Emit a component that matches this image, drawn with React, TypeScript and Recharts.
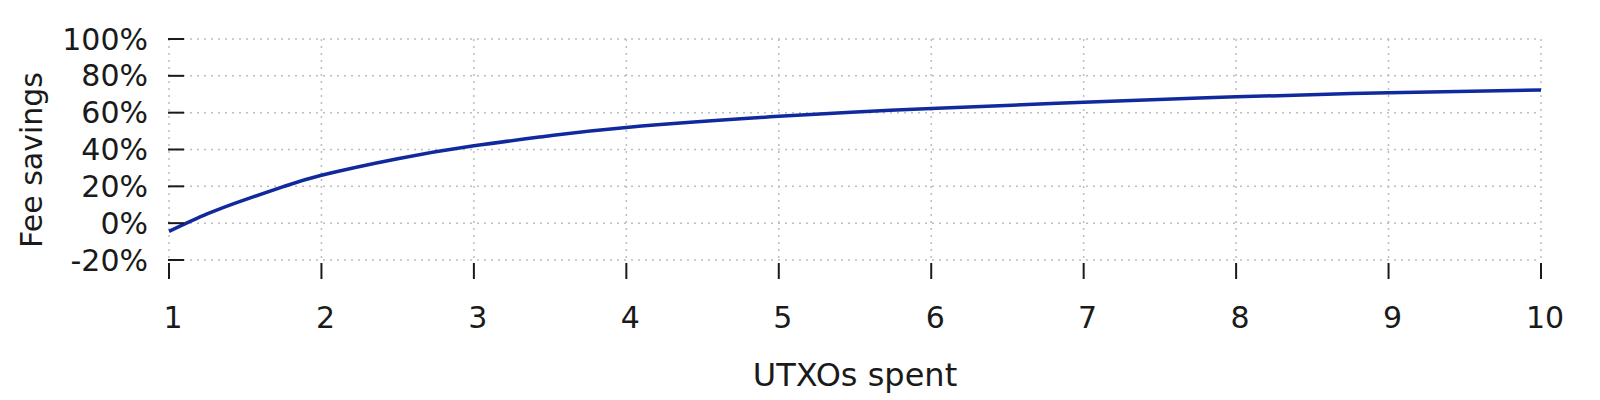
import { CartesianGrid, Label, Line, LineChart, XAxis, YAxis } from "recharts";

// UTXOs spent (x) and fee savings in percent (y)
const utxos = [1, 1.25, 1.5, 1.75, 2, 2.5, 3, 3.5, 4, 5, 6, 7, 8, 9, 10];
const savings = [-4.5, 5, 12.8, 19.8, 26, 35, 42, 47.5, 52, 58, 62.3, 65.6, 68.6, 70.8, 72.3];

const xTicks = [1, 2, 3, 4, 5, 6, 7, 8, 9, 10];
const yTicks = [-20, 0, 20, 40, 60, 80, 100];

const data = utxos.map((n, i) => ({ n, savings: savings[i] }));

const FONT = "DejaVu Sans";
const INK = "#1a1a1a";

const YTick = ({ x, y, payload }: any) => (
  <g>
    <line x1={x - 1} x2={x + 15} y1={y} y2={y} stroke={INK} strokeWidth={2} />
    <text
      x={x - 21}
      y={y}
      textAnchor="end"
      dominantBaseline="central"
      fontFamily={FONT}
      fontSize={30}
      fill={INK}
    >
      {payload.value + "%"}
    </text>
  </g>
);

const XTick = ({ x, y, payload }: any) => (
  <g>
    <line x1={x} x2={x} y1={y + 3} y2={y + 19} stroke={INK} strokeWidth={2} />
    <text
      x={x + 4}
      y={y + 57}
      textAnchor="middle"
      dominantBaseline="central"
      fontFamily={FONT}
      fontSize={30}
      fill={INK}
    >
      {payload.value}
    </text>
  </g>
);

const App = () => {
  return (
    <div style={{ position: "absolute", left: 0, top: 0, background: "#fff" }}>
      <LineChart
        width={1600}
        height={400}
        data={data}
        margin={{ top: 39, right: 59, left: 69, bottom: 80 }}
      >
        <CartesianGrid stroke="#bdbdbd" strokeWidth={1.5} strokeDasharray="2 5" />
        <XAxis
          dataKey="n"
          type="number"
          domain={[1, 10]}
          ticks={xTicks}
          axisLine={false}
          tickLine={false}
          tickSize={0}
          tickMargin={0}
          height={60}
          tick={XTick}
          interval={0}
        >
          <Label
            content={() => (
              <text
                x={855}
                y={375}
                textAnchor="middle"
                dominantBaseline="central"
                fontFamily={FONT}
                fontSize={32}
                fill={INK}
              >
                UTXOs spent
              </text>
            )}
          />
        </XAxis>
        <YAxis
          type="number"
          domain={[-20, 100]}
          ticks={yTicks}
          axisLine={false}
          tickLine={false}
          tickSize={0}
          tickMargin={0}
          width={100}
          tick={YTick}
          interval={0}
        >
          <Label
            content={() => (
              <text
                x={31}
                y={160}
                transform="rotate(-90 31 160)"
                textAnchor="middle"
                dominantBaseline="central"
                fontFamily={FONT}
                fontSize={30}
                fill={INK}
              >
                Fee savings
              </text>
            )}
          />
        </YAxis>
        <Line
          type="natural"
          dataKey="savings"
          stroke="#102a9e"
          strokeWidth={3.5}
          dot={false}
          isAnimationActive={false}
        />
      </LineChart>
    </div>
  );
};

export default App;
